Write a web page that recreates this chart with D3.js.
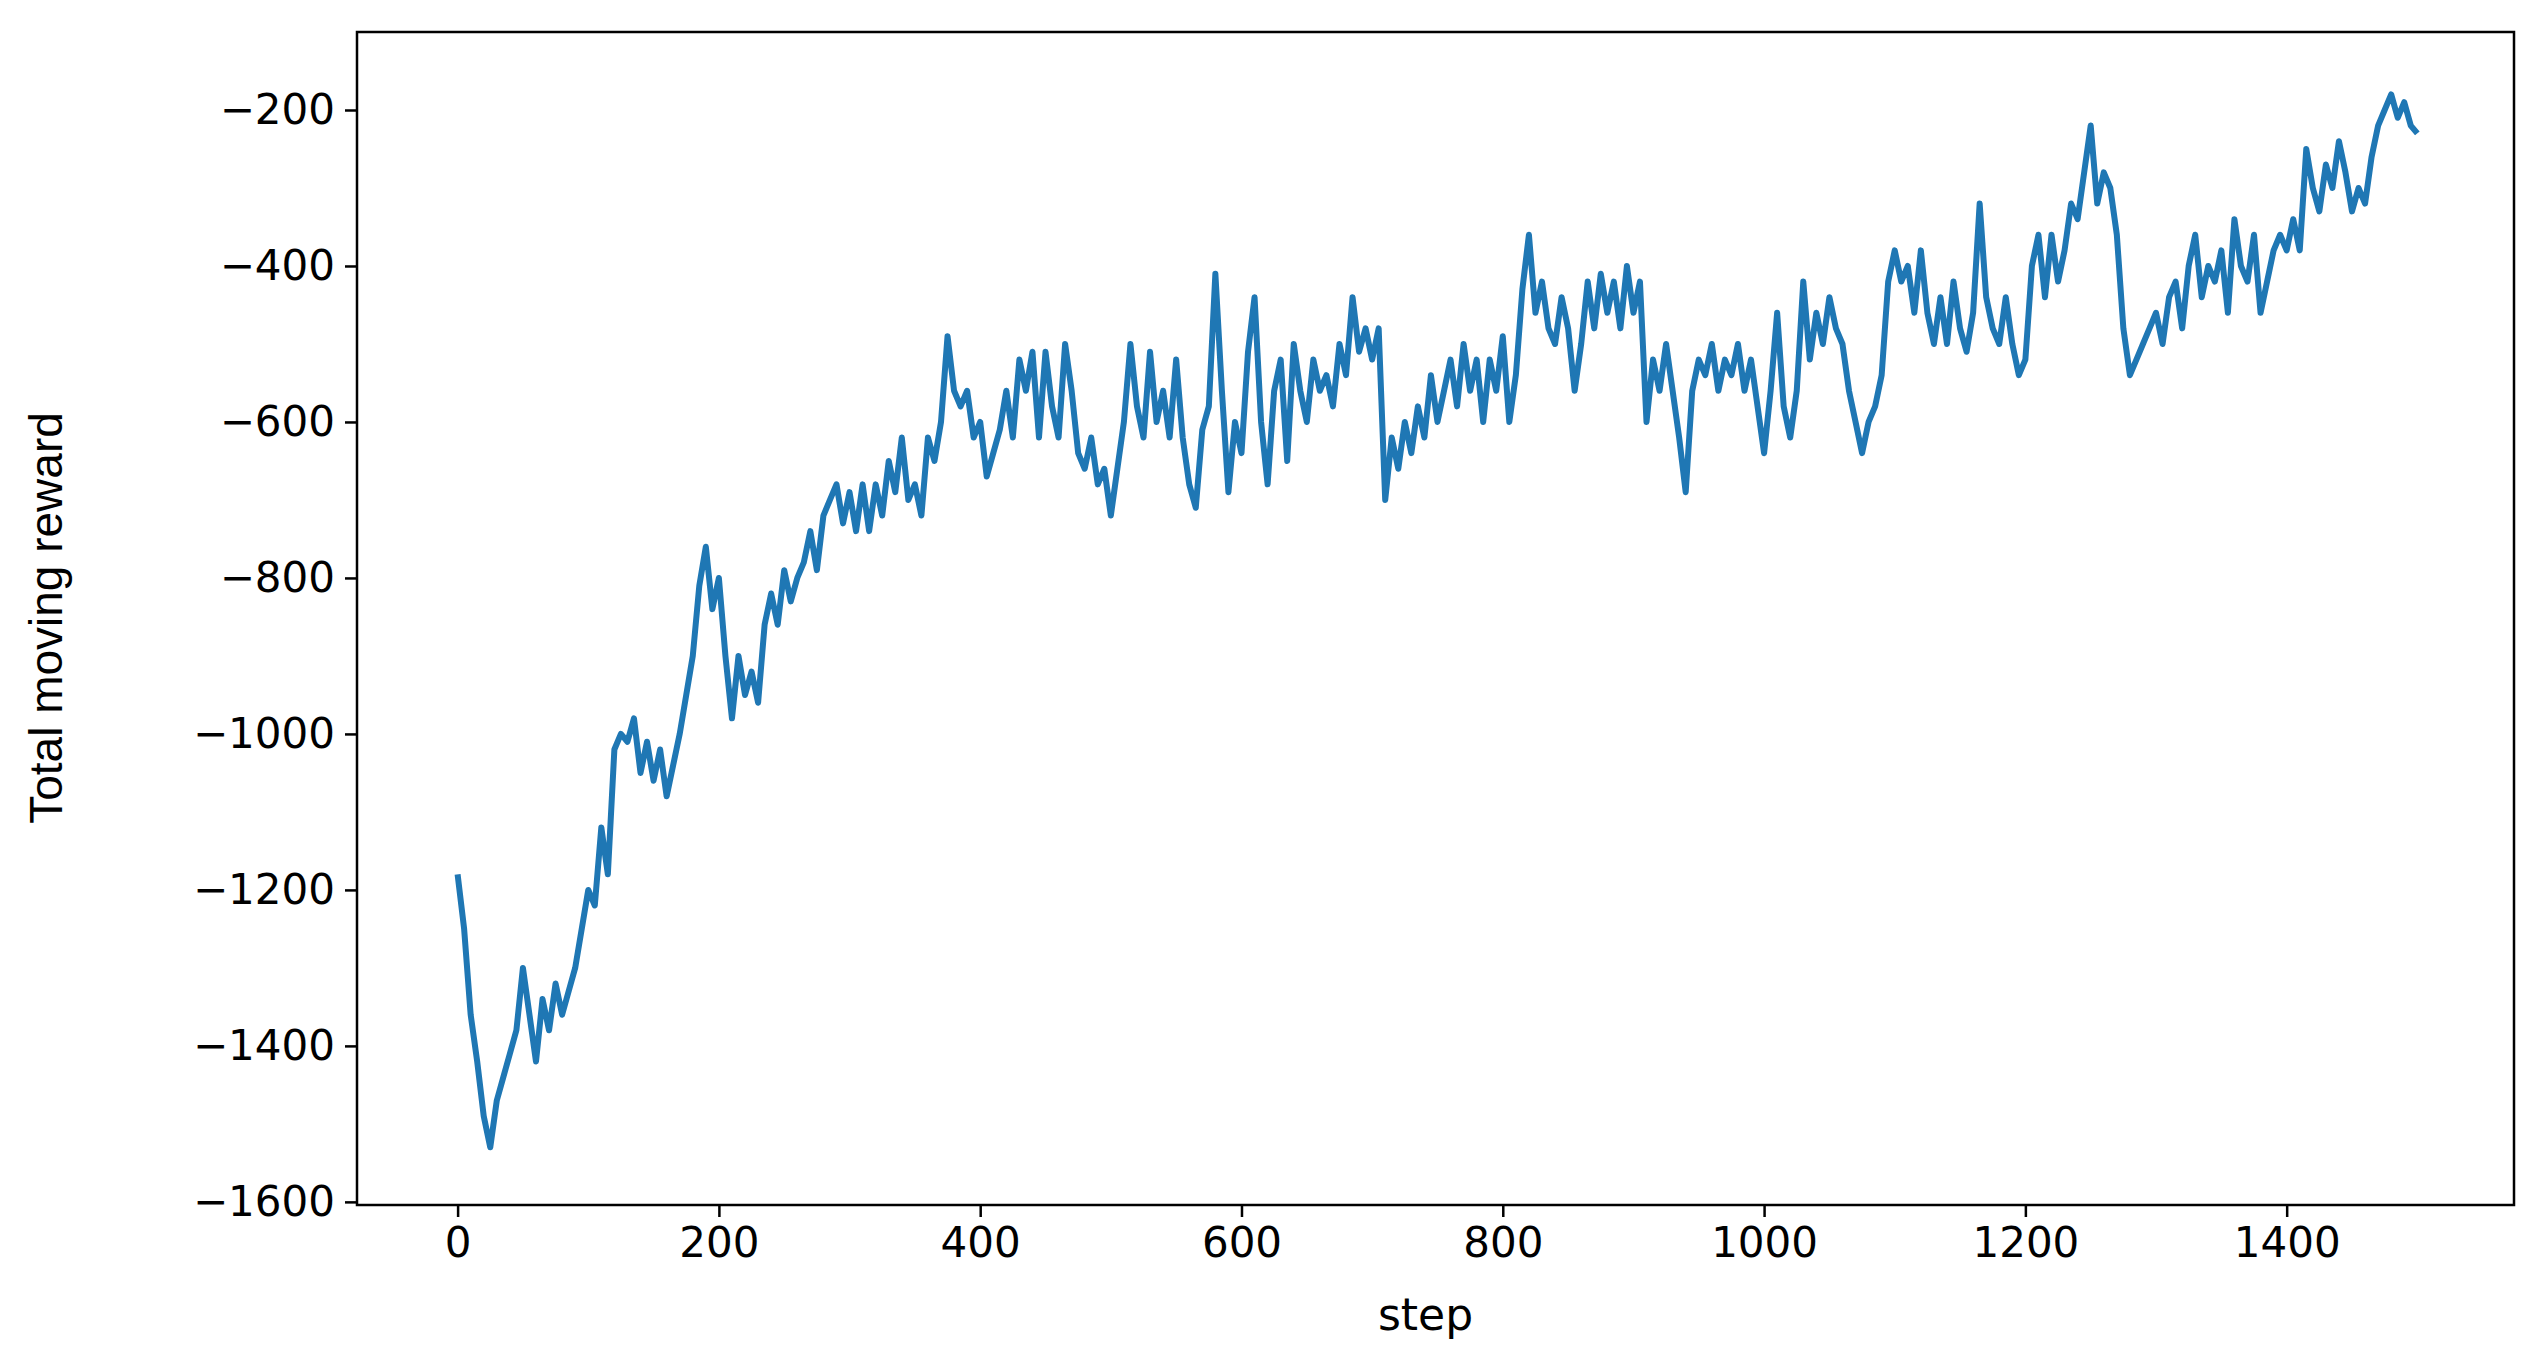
<!DOCTYPE html>
<html><head><meta charset="utf-8">
<script src="https://cdn.jsdelivr.net/npm/d3@7"></script>
<style>body{margin:0;background:#fff}svg{display:block}</style>
</head><body><svg id="chart" width="2533" height="1353"></svg>
<script>
const stepSize = 5;
const rewards = [-1180,-1250,-1360,-1420,-1490,-1530,-1470,-1440,-1410,-1380,-1300,-1360,-1420,-1340,-1380,-1320,-1360,-1330,-1300,-1250,
-1200,-1220,-1120,-1180,-1020,-1000,-1010,-980,-1050,-1010,-1060,-1020,-1080,-1040,-1000,-950,-900,-810,-760,-840,
-800,-900,-980,-900,-950,-920,-960,-860,-820,-860,-790,-830,-800,-780,-740,-790,-720,-700,-680,-730,
-690,-740,-680,-740,-680,-720,-650,-690,-620,-700,-680,-720,-620,-650,-600,-490,-560,-580,-560,-620,
-600,-670,-640,-610,-560,-620,-520,-560,-510,-620,-510,-580,-620,-500,-560,-640,-660,-620,-680,-660,
-720,-660,-600,-500,-580,-620,-510,-600,-560,-620,-520,-620,-680,-710,-610,-580,-410,-560,-690,-600,
-640,-510,-440,-600,-680,-560,-520,-650,-500,-560,-600,-520,-560,-540,-580,-500,-540,-440,-510,-480,
-520,-480,-700,-620,-660,-600,-640,-580,-620,-540,-600,-560,-520,-580,-500,-560,-520,-600,-520,-560,
-490,-600,-540,-430,-360,-460,-420,-480,-500,-440,-480,-560,-500,-420,-480,-410,-460,-420,-480,-400,
-460,-420,-600,-520,-560,-500,-560,-620,-690,-560,-520,-540,-500,-560,-520,-540,-500,-560,-520,-580,
-640,-560,-460,-580,-620,-560,-420,-520,-460,-500,-440,-480,-500,-560,-600,-640,-600,-580,-540,-420,
-380,-420,-400,-460,-380,-460,-500,-440,-500,-420,-480,-510,-460,-320,-440,-480,-500,-440,-500,-540,
-520,-400,-360,-440,-360,-420,-380,-320,-340,-280,-220,-320,-280,-300,-360,-480,-540,-520,-500,-480,
-460,-500,-440,-420,-480,-400,-360,-440,-400,-420,-380,-460,-340,-400,-420,-360,-460,-420,-380,-360,
-380,-340,-380,-250,-300,-330,-270,-300,-240,-280,-330,-300,-320,-260,-220,-200,-180,-210,-190,-220,-230];
const xTicks = [0,200,400,600,800,1000,1200,1400];
const yTicks = [-200,-400,-600,-800,-1000,-1200,-1400,-1600];

const m = {l:357, r:2514, t:32, b:1205};
const svg = d3.select("#chart");
const x = d3.scaleLinear().domain([-77,1574]).range([m.l,m.r]);
const y = d3.scaleLinear().domain([-1604,-100]).range([m.b,m.t]);
const font = "DejaVu Sans";

const xa = svg.append("g").attr("transform",`translate(0,${m.b})`)
  .call(d3.axisBottom(x).tickValues(xTicks).tickSize(12).tickPadding(10).tickFormat(d3.format("d")));
const ya = svg.append("g").attr("transform",`translate(${m.l},0)`)
  .call(d3.axisLeft(y).tickValues(yTicks).tickSize(12).tickPadding(10).tickFormat(d => "\u2212" + Math.abs(d)));
[xa,ya].forEach(a => {
  a.select(".domain").remove();
  a.selectAll("line").attr("stroke","#000").attr("stroke-width",2.5);
  a.selectAll("text").attr("font-family",font).attr("font-size",42).attr("fill","#000");
});

svg.append("path").datum(rewards)
  .attr("fill","none").attr("stroke","#1f77b4").attr("stroke-width",6).attr("stroke-linejoin","round")
  .attr("d", d3.line().x((d,i)=>x(i*stepSize)).y(d=>y(d)));

svg.append("rect").attr("x",m.l).attr("y",m.t).attr("width",m.r-m.l).attr("height",m.b-m.t)
  .attr("fill","none").attr("stroke","#000").attr("stroke-width",2.5);

svg.append("text").attr("x",(m.l+m.r)/2 - 10).attr("y",1330).attr("text-anchor","middle")
  .attr("font-family",font).attr("font-size",44).text("step");
svg.append("text").attr("transform","translate(62,618) rotate(-90)").attr("text-anchor","middle")
  .attr("font-family","Liberation Sans Narrow, Liberation Sans").attr("font-size",46).text("Total moving reward");
</script></body></html>
